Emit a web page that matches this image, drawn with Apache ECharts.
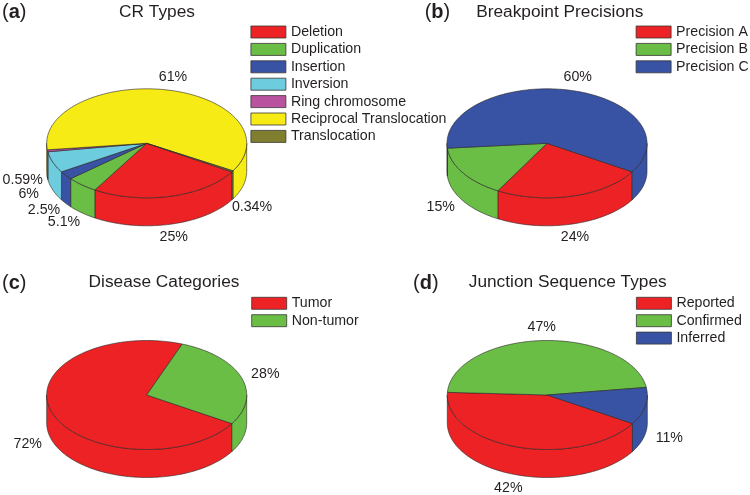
<!DOCTYPE html>
<html><head><meta charset="utf-8">
<style>html,body{margin:0;padding:0;background:#fff}#c{width:750px;height:495px}</style>
<script src="https://cdn.jsdelivr.net/npm/echarts@6/dist/echarts.min.js"></script>
</head><body><div id="c"></div>
<script>
// ---- data ----
const crCategories = ['Deletion','Duplication','Insertion','Inversion','Ring chromosome','Reciprocal Translocation','Translocation'];
const crValues = [25, 5.1, 2.5, 6.3, 0.59, 60.6, 0.34];
const crLabels = ['25%','5.1%','2.5%','6%','0.59%','61%','0.34%'];
const bpCategories = ['Precision A','Precision B','Precision C'];
const bpValues = [24.4, 15.4, 60.2];
const bpLabels = ['24%','15%','60%'];
const dcCategories = ['Tumor','Non-tumor'];
const dcValues = [72, 28];
const dcLabels = ['72%','28%'];
const jsCategories = ['Reported','Confirmed','Inferred'];
const jsValues = [42, 47, 11];
const jsLabels = ['42%','47%','11%'];
const panelTitles = ['CR Types','Breakpoint Precisions','Disease Categories','Junction Sequence Types'];
const panelLetters = ['a','b','c','d'];

// ---- styling and layout ----
const RED='#ED2224',GREEN='#6ABD45',BLUE='#3953A4',CYAN='#6DCCDD',PURPLE='#B9529F',YELLOW='#F6EB14',OLIVE='#7F7F2F';
const INK='#231F20', FONT='"Liberation Sans",Arial,sans-serif';
const RX=100, RY=54.5, DEPTH=28, START=31.6;
const YMAX=1+DEPTH/RY, DEPTH_U=DEPTH/RY;
const panels=[
 {cats:crCategories,vals:crValues,labs:crLabels,cols:[RED,GREEN,BLUE,CYAN,PURPLE,YELLOW,OLIVE],cx:146.7,cy:143.3,
  labelAt:[[173.7,237],[64,222],[44,210],[28.7,194],[22.7,180.3],[173,76.7],[252,207]],
  title:[157,12],letter:[2,12],legend:[250.5,25]},
 {cats:bpCategories,vals:bpValues,labs:bpLabels,cols:[RED,GREEN,BLUE],cx:547,cy:143.3,
  labelAt:[[575,237],[440.7,206.7],[577.7,77]],
  title:[559.7,12],letter:[424.7,12],legend:[635.7,25]},
 {cats:dcCategories,vals:dcValues,labs:dcLabels,cols:[RED,GREEN],cx:146.7,cy:395,
  labelAt:[[27.7,444],[265.3,374]],
  title:[164,282],letter:[2,283],legend:[251.3,296.3]},
 {cats:jsCategories,vals:jsValues,labs:jsLabels,cols:[RED,GREEN,BLUE],cx:547.3,cy:395,
  labelAt:[[508.3,488],[541.7,327],[669.3,438]],
  title:[567.7,282],letter:[413,283],legend:[636,296.3]}
];

function pt(deg,dy){const r=deg*Math.PI/180;return [Math.cos(r),Math.sin(r)+(dy||0)];}
function arc(a,b,dy){const out=[],n=Math.max(2,Math.ceil(Math.abs(b-a)/1.5));
  for(let i=0;i<=n;i++)out.push(pt(a+(b-a)*i/n,dy));return out;}

function makeRender(color,labelText,labelPos){
  return function(params,api){
    const a=api.value(0), b=api.value(1);
    const C=p=>api.coord(p);
    const line={stroke:'#2a2526',lineWidth:0.6,lineJoin:'round'};
    const children=[];
    [[0,180],[360,540]].forEach(w=>{
      const s=Math.max(a,w[0]),e=Math.min(b,w[1]);
      if(e>s){
        const pts=arc(s,e,0).concat(arc(e,s,DEPTH_U)).map(C);
        children.push({type:'polygon',shape:{points:pts},style:Object.assign({fill:color},line)});
      }
    });
    const top=[[0,0]].concat(arc(a,b,0)).map(C);
    children.push({type:'polygon',shape:{points:top},style:Object.assign({fill:color},line)});
    children.push({type:'text',style:{text:labelText,x:labelPos[0],y:labelPos[1],fill:INK,
      font:'14.2px '+FONT,align:'center',verticalAlign:'middle'}});
    return {type:'group',children};
  };
}

const grid=[],xAxis=[],yAxis=[],series=[],legend=[],title=[];
panels.forEach((p,i)=>{
  grid.push({left:p.cx-RX,width:2*RX,top:p.cy-RY,height:2*RY+DEPTH,show:false});
  xAxis.push({type:'value',gridIndex:i,min:-1,max:1,show:false});
  yAxis.push({type:'value',gridIndex:i,min:-1,max:YMAX,inverse:true,show:false});
  const total=p.vals.reduce((s,v)=>s+v,0);
  let acc=START;
  p.cats.forEach((name,k)=>{
    const sweep=p.vals[k]/total*360;
    series.push({type:'custom',name,xAxisIndex:i,yAxisIndex:i,coordinateSystem:'cartesian2d',
      itemStyle:{color:p.cols[k]},silent:true,animation:false,
      renderItem:makeRender(p.cols[k],p.labs[k],p.labelAt[k]),
      data:[[acc,acc+sweep]]});
    acc+=sweep;
  });
  legend.push({left:p.legend[0],top:p.legend[1],orient:'vertical',data:p.cats,icon:'rect',
    itemWidth:35,itemHeight:12,itemGap:3.4,padding:0,selectedMode:false,
    itemStyle:{borderColor:'#3a3536',borderWidth:0.8},
    textStyle:{fontFamily:FONT,fontSize:14.2,color:INK}});
  title.push({text:panelTitles[i],left:p.title[0],top:p.title[1]-10,textAlign:'center',padding:0,
    textStyle:{fontFamily:FONT,fontSize:17.3,fontWeight:'normal',color:INK,lineHeight:20}});
  title.push({text:'{n|(}{b|'+panelLetters[i]+'}{n|)}',left:p.letter[0],top:p.letter[1]-11,padding:0,
    textStyle:{rich:{n:{fontFamily:FONT,fontSize:20,fontWeight:'normal',color:INK,lineHeight:22},
      b:{fontFamily:FONT,fontSize:20,fontWeight:'bold',color:INK,lineHeight:22}}}});
});

const chart=echarts.init(document.getElementById('c'),null,{renderer:'canvas',width:750,height:495});
chart.setOption({animation:false,backgroundColor:'#fff',tooltip:{show:false},title,legend,grid,xAxis,yAxis,series});
</script></body></html>
